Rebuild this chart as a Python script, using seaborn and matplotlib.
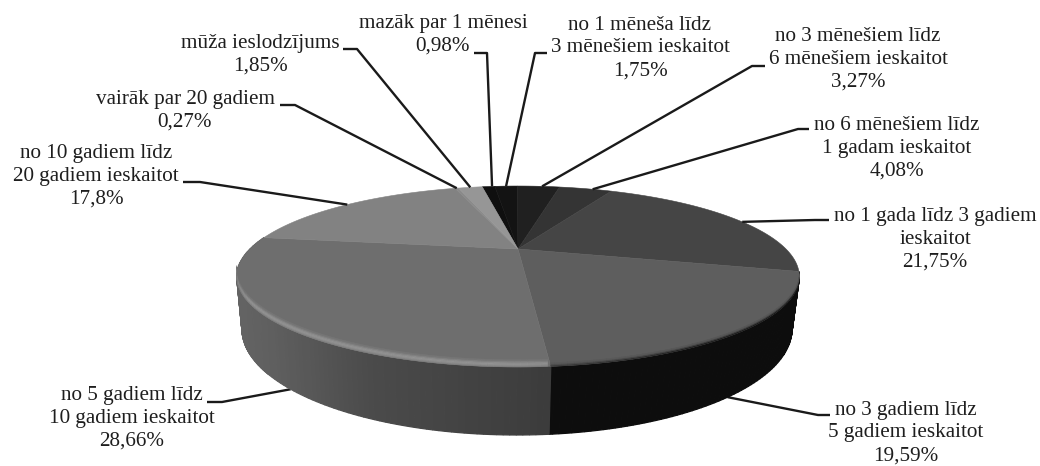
import numpy as np
import matplotlib
matplotlib.use("Agg")
import matplotlib.pyplot as plt
from matplotlib.collections import PolyCollection
import seaborn as sns

# --- data ---
labels = [
    "mazāk par 1 mēnesi\n0,98%",
    "no 1 mēneša līdz\n3 mēnešiem ieskaitot\n1,75%",
    "no 3 mēnešiem līdz\n6 mēnešiem ieskaitot\n3,27%",
    "no 6 mēnešiem līdz\n1 gadam ieskaitot\n4,08%",
    "no 1 gada līdz 3 gadiem\nieskaitot\n21,75%",
    "no 3 gadiem līdz\n5 gadiem ieskaitot\n19,59%",
    "no 5 gadiem līdz\n10 gadiem ieskaitot\n28,66%",
    "no 10 gadiem līdz\n20 gadiem ieskaitot\n17,8%",
    "vairāk par 20 gadiem\n0,27%",
    "mūža ieslodzījums\n1,85%",
]
values = [0.98, 1.75, 3.27, 4.08, 21.75, 19.59, 28.66, 17.8, 0.27, 1.85]
grays = ["#0f0f0f", "#131313", "#202020", "#343434", "#454545",
         "#5e5e5e", "#6e6e6e", "#828282", "#8a8a8a", "#969696"]

# --- layout (pixels) ---
W, H = 1040, 466
label_pos = [(443, 35), (640, 48), (858, 59), (897, 148), (935, 239),
             (906, 433), (132, 418), (96, 176), (185, 111), (260, 55)]
leader_start = [(474, 53), (547, 53), (765, 66), (809, 129), (829, 220),
                (830, 415), (207, 402), (183, 182), (280, 105), (343, 49)]
leader_elbow = [(487, 53), (535, 53), (752, 66), (798, 129), (815, 220),
                (818, 415), (222, 402), (200, 182), (295, 105), (357, 49)]
leader_nudge = [1, 0, 1, 2, 3, 2.5, -4.7, 0, 0, 0]
on_base = [False]*5 + [True, True] + [False]*3
APEX = (518.0, 249.0)
START = -10.0
C, A, K = 0.304, 82.1, 268.0
BASE = (517.0, 329.0, 275.0, 106.0)
LIGHT_W = [0.5, 0.85, 1.0, 0.85, 0.5, 0.2]
DARK_W = [0.85, 0.4, 0.1]
BAND_STEP = 1.2


def rim(deg):
    t = np.radians(np.asarray(deg, dtype=float))
    x, y = np.sin(t), np.cos(t)
    d = 1 + C * y
    return APEX[0] + K * x / d, APEX[1] - A * y / d


def base(deg):
    px, _ = rim(deg)
    s = np.clip((px - APEX[0]) / 281.5, -1, 1)
    return BASE[0] + BASE[2] * s, BASE[1] + BASE[3] * np.sqrt(1 - s * s)


sns.set_theme(style="white")
palette = sns.color_palette(grays)
plt.rcParams["font.family"] = ["Liberation Serif", "DejaVu Serif"]

fig = plt.figure(figsize=(W / 100, H / 100), dpi=100, facecolor="white")
ax = fig.add_axes([0, 0, 1, 1])
ax.set_xlim(0, W)
ax.set_ylim(H, 0)
ax.axis("off")

edges = START + 360 * np.cumsum([0] + values) / sum(values)

# side wall
for i in range(len(values)):
    if not on_base[i]:
        continue
    th = np.append(np.arange(edges[i], edges[i + 1], 1.0), edges[i + 1])
    for a, b in zip(th[:-1], th[1:]):
        xa, ya = rim(a)
        xb, yb = rim(b)
        xa2, ya2 = base(a)
        xb2, yb2 = base(b)
        if i == 6:
            pos = (xa - 237) / (551 - 237)
            g = np.interp(pos, [0, 0.12, 0.45, 1], [0.39, 0.37, 0.29, 0.235])
        else:
            g = 0.05
        ax.fill([xa, xb, xb2, xa2], [ya, yb, yb2, ya2], color=(g, g, g),
                lw=0.9, zorder=1)

# top surface
for i, col in enumerate(palette):
    th = np.append(np.arange(edges[i], edges[i + 1], 0.5), edges[i + 1])
    px, py = rim(th)
    ax.fill(np.r_[APEX[0], px], np.r_[APEX[1], py], color=col, lw=0.4, zorder=2)

# bevel: graded strips just above the front edge of the two front slices
split = edges[6]
polys, cols = [], []
for a in np.arange(edges[5] + 4, 254, 1.0):
    b = min(a + 1.0, split) if a < split else a + 1.0
    left = a >= split
    surf = palette[6][0] if left else palette[5][0]
    if left:
        hi, fade, prof = 0.58, np.interp(a, [split, split + 4, 235, 254], [0.85, 1, 1, 0.4]), LIGHT_W
    else:
        hi, fade, prof = np.interp(a, [105, 150, 175], [0.03, 0.06, 0.22]), 1.0, DARK_W
    xa, ya = rim(a)
    xb, yb = rim(b)
    for k, w in enumerate(prof):
        o1, o2 = k * BAND_STEP, (k + 1) * BAND_STEP
        polys.append([(xa, ya - o1), (xb, yb - o1), (xb, yb - o2), (xa, ya - o2)])
        g = surf + (hi - surf) * w * fade
        cols.append((g, g, g))
ax.add_collection(PolyCollection(polys, facecolors=cols, edgecolors=cols,
                                 linewidths=0.3, zorder=3))

# leaders and labels
text_col = "#1e1e1e"
mids = (edges[:-1] + edges[1:]) / 2
for i, lab in enumerate(labels):
    ex, ey = base(mids[i] + leader_nudge[i]) if on_base[i] else rim(mids[i] + leader_nudge[i])
    ax.plot([leader_start[i][0], leader_elbow[i][0], ex],
            [leader_start[i][1], leader_elbow[i][1], ey],
            color="#1a1a1a", lw=1.7, zorder=0 if on_base[i] else 4,
            solid_capstyle="butt")
    ax.text(*label_pos[i], lab, ha="center", va="center", fontsize=15.2,
            color=text_col, linespacing=1.27, zorder=5)

fig.savefig("out.png", dpi=100, facecolor="white")
